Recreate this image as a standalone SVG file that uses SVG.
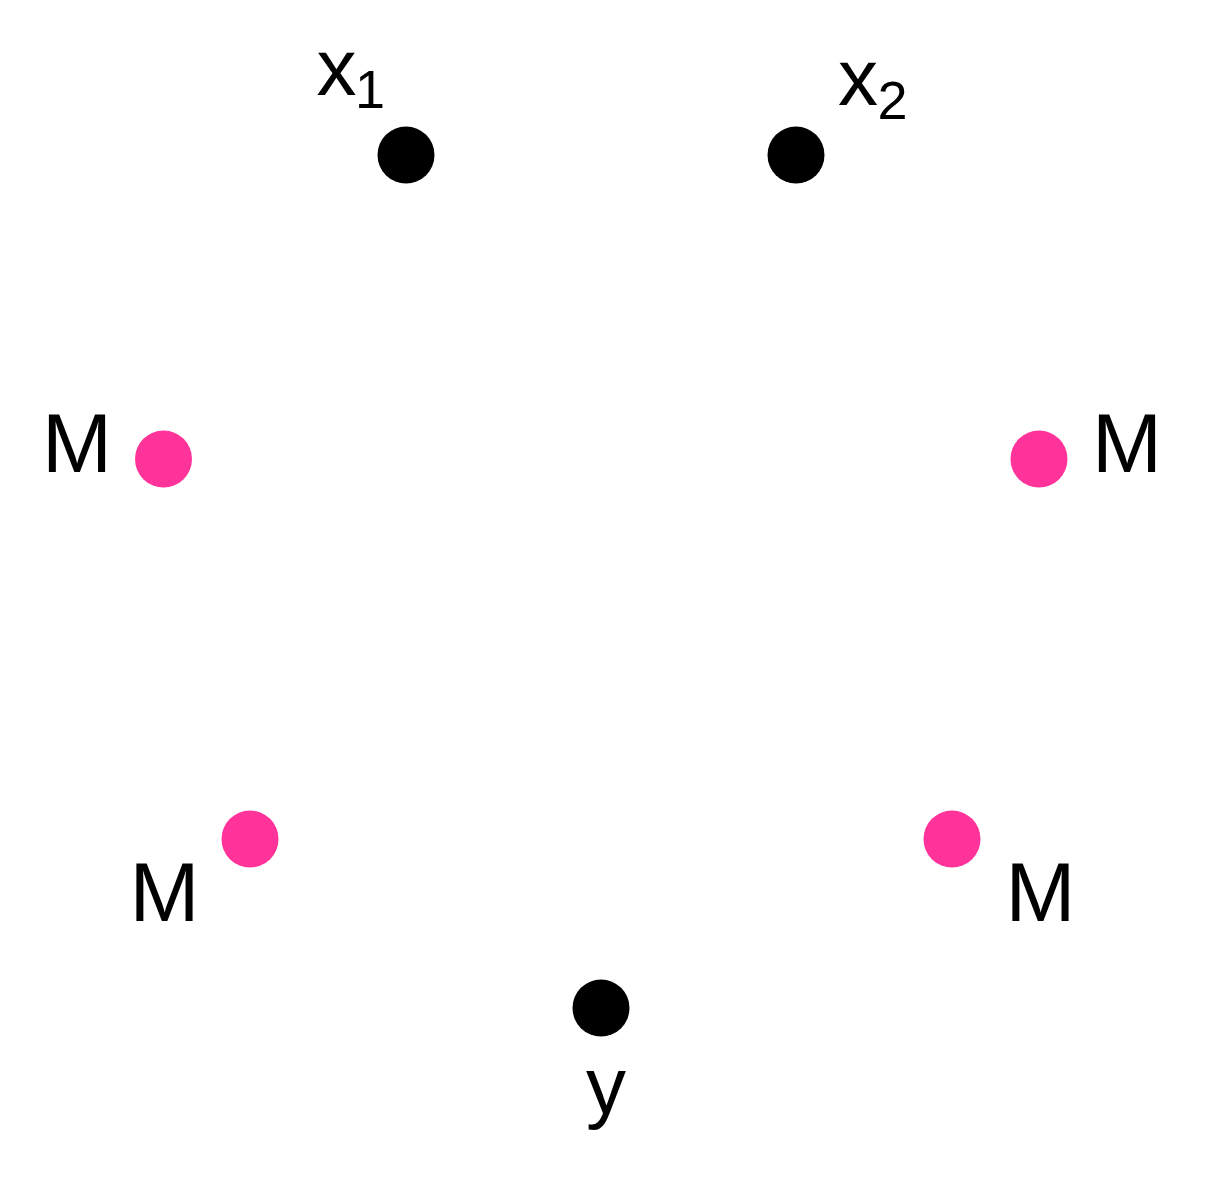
<svg xmlns="http://www.w3.org/2000/svg" width="1205" height="1178" viewBox="0 0 1205 1178">
<style>
.lbl{font-family:"Liberation Sans",Arial,sans-serif;fill:#000;text-anchor:middle}
.big{font-size:84px}
.var{font-size:80px}
.sub{font-size:54px}
.obs{fill:#000}
.mid{fill:#FF3399}
</style>
<rect width="1205" height="1178" fill="#fff"/>
<g id="connectors"></g>
<g id="x1"><circle class="obs" cx="406" cy="155" r="28.5"/><text class="lbl var" x="336.5" y="95">x</text><text class="lbl sub" x="370" y="108">1</text></g>
<g id="x2"><circle class="obs" cx="796" cy="155" r="28.5"/><text class="lbl var" x="858" y="105">x</text><text class="lbl sub" x="892.5" y="119">2</text></g>
<g id="m1"><circle class="mid" cx="163.5" cy="459" r="28.5"/><text class="lbl big" x="77" y="472">M</text></g>
<g id="m2"><circle class="mid" cx="1039" cy="459" r="28.5"/><text class="lbl big" x="1127" y="472">M</text></g>
<g id="m3"><circle class="mid" cx="250" cy="839" r="28.5"/><text class="lbl big" x="164.5" y="921">M</text></g>
<g id="m4"><circle class="mid" cx="952" cy="839" r="28.5"/><text class="lbl big" x="1040.5" y="921">M</text></g>
<g id="y"><circle class="obs" cx="601" cy="1008" r="28.5"/><text class="lbl var" x="606" y="1113">y</text></g>
</svg>
